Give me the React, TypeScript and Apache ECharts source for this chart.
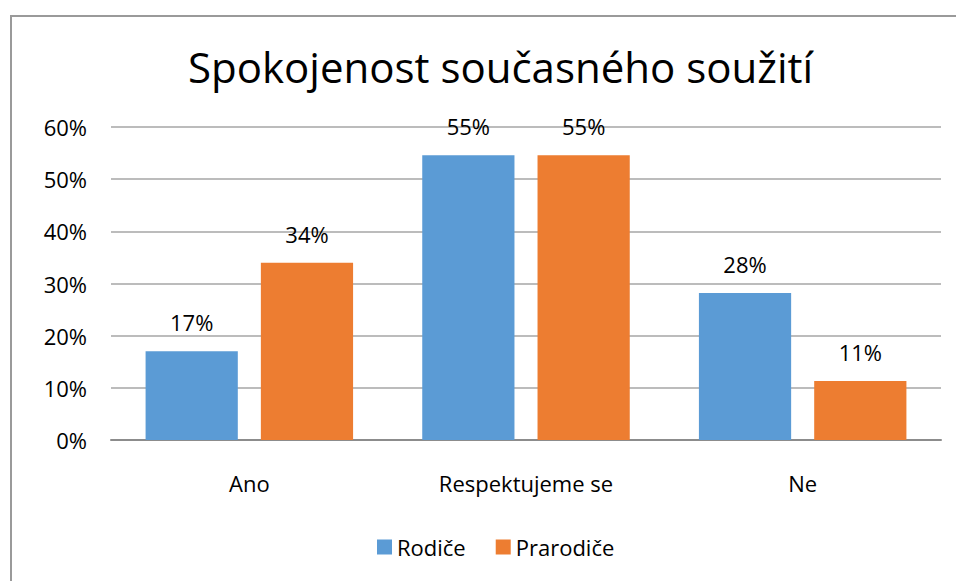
import React, { useEffect, useRef } from "react";
import * as echarts from "echarts";

const categories = ["Ano", "Respektujeme se", "Ne"];
const seriesNames = ["Rodiče", "Prarodiče"];
const rodice = [17, 54.6, 28.2];
const prarodice = [34, 54.6, 11.3];
const yTicks = [0, 10, 20, 30, 40, 50, 60];

export default function App() {
  const ref = useRef<HTMLDivElement>(null);
  useEffect(() => {
    if (!ref.current) return;
    const chart = echarts.init(ref.current, undefined, { renderer: "svg" });
    const font = "'Open Sans', 'Noto Sans', sans-serif";
    const label = {
      show: true,
      position: "top",
      distance: 18,
      color: "#000",
      fontSize: 22,
      fontFamily: font,
      formatter: (p: any) => Math.round(p.value) + "%",
    };
    chart.setOption({
      animation: false,
      backgroundColor: "#fff",
      title: {
        text: "Spokojenost současného soužití",
        left: 183,
        top: 40,
        textStyle: { fontSize: 42, fontWeight: "normal", color: "#000", fontFamily: font },
      },
      legend: {
        bottom: 18,
        left: 372,
        itemWidth: 15,
        itemHeight: 15,
        itemGap: 30,
        icon: "rect",
        textStyle: { fontSize: 22, color: "#000", fontFamily: font },
        data: seriesNames,
      },
      grid: { left: 111, right: 15, top: 127, bottom: 141, containLabel: false },
      xAxis: {
        type: "category",
        data: categories,
        axisLine: { lineStyle: { color: "#8c8c8c", width: 2 } },
        axisTick: { show: false },
        axisLabel: { fontSize: 22, color: "#000", fontFamily: font, margin: 32 },
      },
      yAxis: {
        type: "value",
        min: 0,
        max: 60,
        interval: 10,
        axisLine: { show: false },
        axisTick: { show: false },
        splitLine: { lineStyle: { color: "#a6a6a6", width: 1.5 } },
        axisLabel: { fontSize: 22, color: "#000", fontFamily: font, margin: 24, formatter: (v: number) => (yTicks.includes(v) ? v + "%" : "") },
      },
      graphic: [
        {
          type: "polyline",
          shape: { points: [[11, 581], [11, 16], [956, 16]] },
          style: { stroke: "#9a9a9a", lineWidth: 2, fill: "none" },
          silent: true,
        },
      ],
      series: [
        {
          name: seriesNames[0],
          type: "bar",
          data: rodice,
          itemStyle: { color: "#5b9bd5" },
          barGap: "25%",
          barCategoryGap: "25%",
          label,
        },
        {
          name: seriesNames[1],
          type: "bar",
          data: prarodice,
          itemStyle: { color: "#ed7d31" },
          barGap: "25%",
          barCategoryGap: "25%",
          label,
        },
      ],
    });
    return () => chart.dispose();
  }, []);
  return (
    <div
      ref={ref}
      style={{ position: "absolute", left: 0, top: 0, width: 956, height: 581 }}
    />
  );
}
